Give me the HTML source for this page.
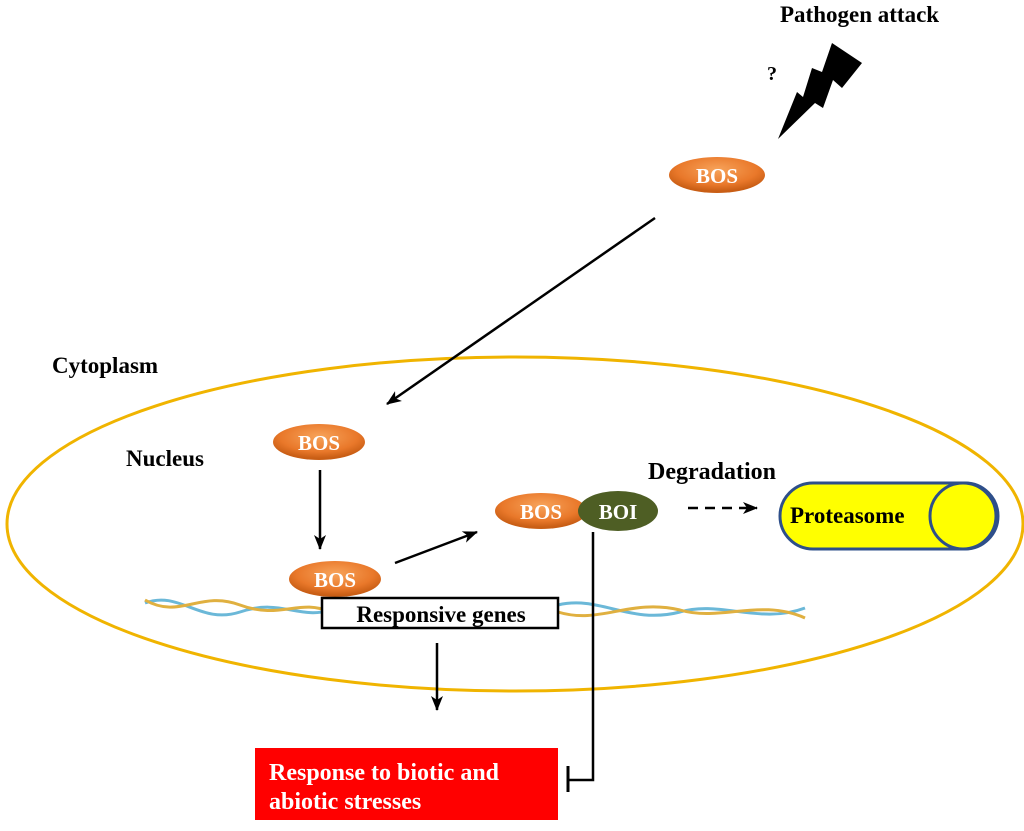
<!DOCTYPE html>
<html><head><meta charset="utf-8"><style>
body{margin:0;background:#fff;width:1024px;height:826px;overflow:hidden}
svg text{font-family:"Liberation Serif",serif;font-weight:bold}
</style></head><body>
<svg width="1024" height="826" viewBox="0 0 1024 826" xmlns="http://www.w3.org/2000/svg">
<defs>
<radialGradient id="og" cx="50%" cy="35%" r="60%">
<stop offset="0" stop-color="#f7a35a"/><stop offset="0.7" stop-color="#e9782a"/><stop offset="1" stop-color="#c95e15"/></radialGradient>
<marker id="ar" markerWidth="16" markerHeight="14" refX="14" refY="7" orient="auto" markerUnits="userSpaceOnUse">
<path d="M0,1 L15,7 L0,13 L4,7 Z" fill="#000"/></marker>
</defs>
<ellipse cx="515" cy="524" rx="508" ry="167" fill="none" stroke="#f0b400" stroke-width="3"/>
<text x="780" y="22" font-size="23">Pathogen attack</text>
<text x="767" y="80" font-size="20">?</text>
<polygon points="778,139 797,92 803,97 812,68 822,72 832,43 862,63 842,88 833,80 823,108 815,103" fill="#000"/>
<ellipse cx="717" cy="175" rx="48" ry="18" fill="url(#og)"/>
<text x="717" y="183" font-size="21" fill="#fff" text-anchor="middle">BOS</text>
<line x1="655" y1="218" x2="387" y2="404" stroke="#000" stroke-width="2.5" marker-end="url(#ar)"/>
<text x="52" y="373" font-size="23">Cytoplasm</text>
<text x="126" y="466" font-size="23">Nucleus</text>
<ellipse cx="319" cy="442" rx="46" ry="18" fill="url(#og)"/>
<text x="319" y="450" font-size="21" fill="#fff" text-anchor="middle">BOS</text>
<line x1="320" y1="470" x2="320" y2="549" stroke="#000" stroke-width="2.5" marker-end="url(#ar)"/>
<path d="M145,603 C180,590 200,625 240,612 C280,598 300,620 330,610" fill="none" stroke="#6bb8d8" stroke-width="3"/>
<path d="M145,600 C180,620 200,590 240,605 C280,620 300,598 330,612" fill="none" stroke="#e0b040" stroke-width="3"/>
<path d="M558,605 C600,595 630,625 680,612 C720,600 760,625 805,608" fill="none" stroke="#6bb8d8" stroke-width="3"/>
<path d="M558,612 C600,625 630,598 680,610 C720,622 760,598 805,618" fill="none" stroke="#e0b040" stroke-width="3"/>
<ellipse cx="335" cy="579" rx="46" ry="18" fill="url(#og)"/>
<text x="335" y="587" font-size="21" fill="#fff" text-anchor="middle">BOS</text>
<line x1="395" y1="563" x2="477" y2="532" stroke="#000" stroke-width="2.5" marker-end="url(#ar)"/>
<rect x="322" y="598" width="236" height="30" fill="#fff" stroke="#000" stroke-width="2.5"/>
<text x="441" y="622" font-size="23" text-anchor="middle">Responsive  genes</text>
<ellipse cx="541" cy="511" rx="46" ry="18" fill="url(#og)"/>
<text x="541" y="519" font-size="21" fill="#fff" text-anchor="middle">BOS</text>
<ellipse cx="618" cy="511" rx="40" ry="20" fill="#4e5e24"/>
<text x="618" y="519" font-size="21" fill="#fff" text-anchor="middle">BOI</text>
<text x="648" y="479" font-size="24">Degradation</text>
<line x1="688" y1="508" x2="757" y2="508" stroke="#000" stroke-width="2.5" stroke-dasharray="10,7" marker-end="url(#ar)"/>
<rect x="780" y="483" width="218" height="66" rx="33" fill="#ffff00" stroke="#2e4f8a" stroke-width="3"/>
<circle cx="963" cy="516" r="33" fill="#ffff00" stroke="#2e4f8a" stroke-width="3"/>
<text x="790" y="523" font-size="23">Proteasome</text>
<polyline points="593,532 593,780 568,780" fill="none" stroke="#000" stroke-width="2.5"/>
<line x1="568" y1="766" x2="568" y2="792" stroke="#000" stroke-width="3"/>
<line x1="437" y1="643" x2="437" y2="710" stroke="#000" stroke-width="2.5" marker-end="url(#ar)"/>
<rect x="255" y="748" width="303" height="72" fill="#ff0000"/>
<text x="269" y="780" font-size="24" fill="#fff">Response to biotic and</text>
<text x="269" y="809" font-size="24" fill="#fff">abiotic stresses</text>
</svg>
</body></html>
